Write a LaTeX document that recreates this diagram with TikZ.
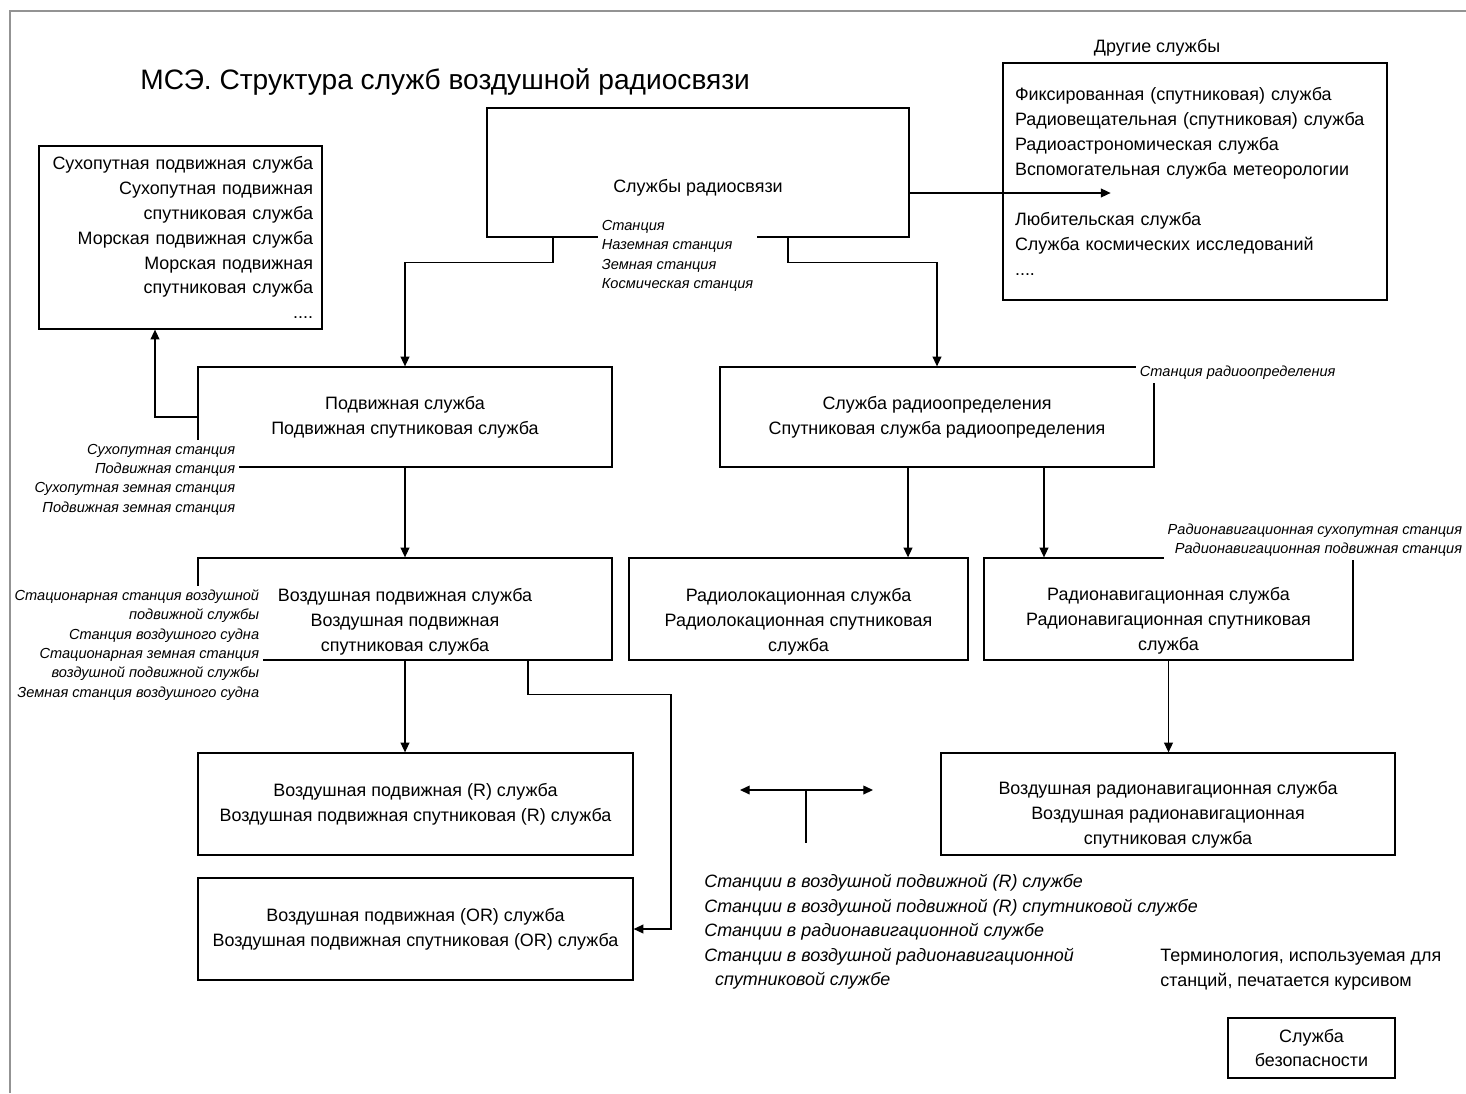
\documentclass[tikz,border=0pt]{standalone}
\usepackage{fontspec}
\setmainfont{Liberation Sans}
\usetikzlibrary{arrows.meta}

\tikzset{
  frame/.style={draw, line width=0.75pt, inner sep=0pt},
  svc/.style={font=\fontsize{10.2}{14.2}\selectfont, align=center, inner sep=0pt},
  stn/.style={font=\fontsize{8.3}{11}\selectfont\itshape, fill=white, inner sep=2pt},
  arr/.style={-{Triangle[length=5.5pt,width=5pt]}, line width=0.7pt},
}

\begin{document}
\begin{tikzpicture}[x=0.02cm, y=-0.02cm]
  \useasboundingbox (0,0) rectangle (1466,1093);
  \draw[gray!85, line width=1.1pt] (10,1093) -- (10,11) -- (1466,11);

  \node[anchor=west, inner sep=0pt, font=\fontsize{16}{19}\selectfont] (title) at (140,82) {МСЭ. Структура служб воздушной радиосвязи};
  \node[svc] (othertitle) at (1157,48) {Другие службы};

  \node[frame, minimum width=8.44cm, minimum height=2.58cm] (radio) at (698,172.5) {};
  \node[svc] (radiotxt) at (698,188) {Службы радиосвязи};
  \node[frame, svc, align=left, text width=7.2cm, inner xsep=0.24cm, minimum height=4.74cm] (other) at (1195,181.5)
    {Фиксированная (спутниковая) служба\\Радиовещательная (спутниковая) служба\\Радиоастрономическая служба\\Вспомогательная служба метеорологии\\[14.2pt]Любительская служба\\Служба космических исследований\\....};
  \node[frame, svc, align=right, text width=5.3cm, inner xsep=0.18cm, minimum height=3.66cm] (land) at (180.5,237.5)
    {Сухопутная подвижная служба\\Сухопутная подвижная\\спутниковая служба\\Морская подвижная служба\\Морская подвижная\\спутниковая служба\\....};

  \node[frame, svc, minimum width=8.28cm, minimum height=2cm] (mobile) at (405,417) {Подвижная служба\\Подвижная спутниковая служба};
  \node[frame, svc, minimum width=8.68cm, minimum height=2cm] (rdet) at (937,417) {Служба радиоопределения\\Спутниковая служба радиоопределения};

  \node[frame, minimum width=8.28cm, minimum height=2.04cm] (aero) at (405,609) {};
  \node[svc] (aerotxt) at (405,622) {Воздушная подвижная служба\\Воздушная подвижная\\спутниковая служба};
  \node[frame, minimum width=6.78cm, minimum height=2.04cm] (radloc) at (798.5,609) {};
  \node[svc] (radloctxt) at (798.5,622) {Радиолокационная служба\\Радиолокационная спутниковая\\служба};
  \node[frame, minimum width=7.38cm, minimum height=2.04cm] (radnav) at (1168.5,609) {};
  \node[svc] (radnavtxt) at (1168.5,621) {Радионавигационная служба\\Радионавигационная спутниковая\\служба};

  \node[frame, svc, minimum width=8.7cm, minimum height=2.04cm] (aeroR) at (415.5,804) {Воздушная подвижная (R) служба\\Воздушная подвижная спутниковая (R) служба};
  \node[frame, svc, minimum width=8.7cm, minimum height=2.04cm] (aeroOR) at (415.5,929) {Воздушная подвижная (OR) служба\\Воздушная подвижная спутниковая (OR) служба};
  \node[frame, minimum width=9.08cm, minimum height=2.04cm] (aeronav) at (1168,804) {};
  \node[svc] (aeronavtxt) at (1168,815) {Воздушная радионавигационная служба\\Воздушная радионавигационная\\спутниковая служба};

  \node[frame, svc, minimum width=3.34cm, minimum height=1.2cm] (safety) at (1311.5,1048) {Служба\\безопасности};
  \node[svc, anchor=west, align=left] (terms) at (1160,969.5) {Терминология, используемая для\\станций, печатается курсивом};

  \draw[arr] ([xshift=-2.9cm]radio.south) -- ++(0,25) -| (mobile.north);
  \draw[arr] ([xshift=1.8cm]radio.south) -- ++(0,25) -| (rdet.north);
  \draw[arr] ([yshift=-0.41cm]radio.east) -- ++(201,0);
  \draw[arr] (mobile.west) -| ([xshift=-0.51cm]land.south);
  \draw[arr] (mobile.south) -- (aero.north);
  \draw[arr] ([xshift=-0.58cm]rdet.south) -- ([xshift=-0.58cm]rdet.south |- radloc.north);
  \draw[arr] ([xshift=2.14cm]rdet.south) -- ([xshift=2.14cm]rdet.south |- radnav.north);
  \draw[arr] (radnav.south) -- (radnav.south |- aeronav.north);
  \draw[arr] (aero.south) -- (aero.south |- aeroR.north);
  \draw[arr] ([xshift=2.46cm]aero.south) |- ++(143,34) |- (aeroOR.east);

  \node[stn, anchor=west, align=left] (radiostn) at (598,256) {Станция\\Наземная станция\\Земная станция\\Космическая станция};
  \node[stn, anchor=west] (rdetstn) at (1136,373) {Станция радиоопределения};
  \node[stn, anchor=east, align=right] (mobilestn) at (239,479.5) {Сухопутная станция\\Подвижная станция\\Сухопутная земная станция\\Подвижная земная станция};
  \node[stn, anchor=east, align=right] (aerostn) at (263,645) {Стационарная станция воздушной\\подвижной службы\\Станция воздушного судна\\Стационарная земная станция\\воздушной подвижной службы\\Земная станция воздушного судна};
  \node[stn, anchor=east, align=right] (radnavstn) at (1466,540) {Радионавигационная сухопутная станция\\Радионавигационная подвижная станция};

  \coordinate (legl) at (740,790);
  \coordinate (legr) at (873,790);
  \coordinate (legm) at (806,790);
  \draw[{Triangle[length=5.5pt,width=5pt]}-{Triangle[length=5.5pt,width=5pt]}, line width=0.7pt] (legl) -- (legr);
  \draw[line width=0.7pt] (legm) -- ++(0,53);
  \node[anchor=west, align=left, inner sep=0pt, font=\fontsize{10.2}{13.9}\selectfont\itshape] (legend) at (704,932)
    {Станции в воздушной подвижной (R) службе\\Станции в воздушной подвижной (R) спутниковой службе\\Станции в радионавигационной службе\\Станции в воздушной радионавигационной\\\hspace{0.6em}спутниковой службе};
\end{tikzpicture}
\end{document}
